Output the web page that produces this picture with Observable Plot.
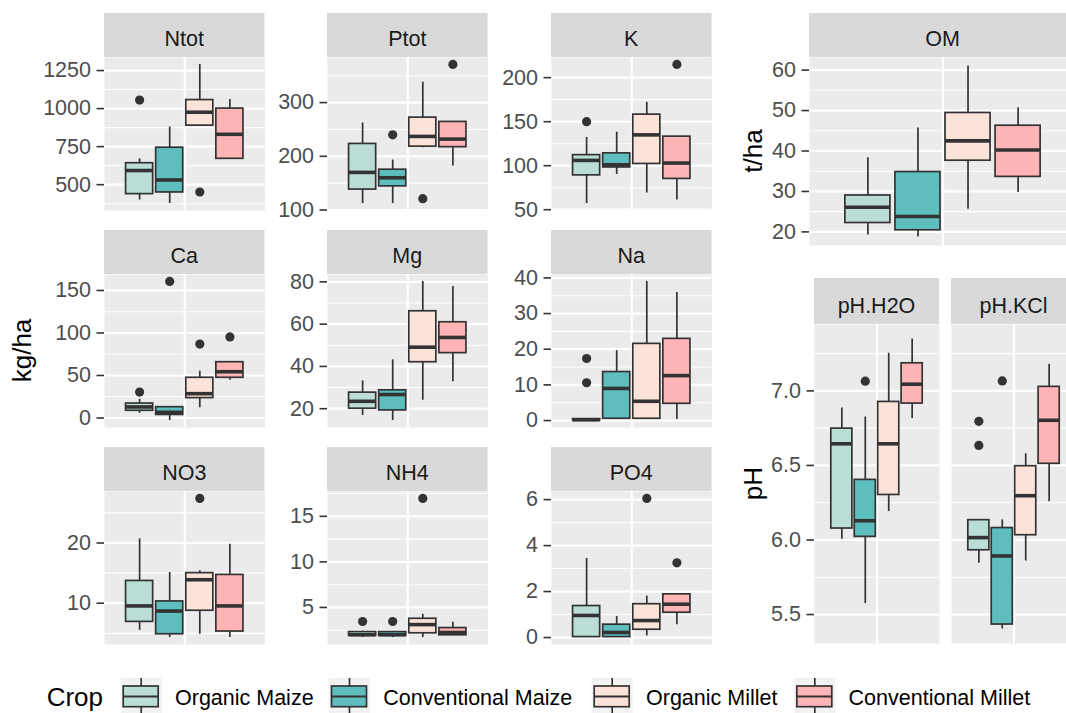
<!DOCTYPE html>
<html>
<head>
<meta charset="utf-8">
<script src="https://cdn.jsdelivr.net/npm/d3@7"></script>
<script src="https://cdn.jsdelivr.net/npm/@observablehq/plot@0.6"></script>
<style>
  html, body { margin: 0; padding: 0; background: #fff; overflow: hidden; }
  #fig { position: relative; width: 1066px; height: 713px; overflow: hidden;
         font-family: "Liberation Sans", Arial, sans-serif; }
  #fig > div.pnl { position: absolute; }
  #fig svg { overflow: visible; max-width: none !important; }
</style>
</head>
<body>
<div id="fig"></div>
<script>
// ---------------- data (box stats per crop: [lower whisker, Q1, median, Q3, upper whisker]) -------------
const crops = ["Organic Maize", "Conventional Maize", "Organic Millet", "Conventional Millet"];
const cropColors = ["#BADED6", "#5EBEBE", "#FBE3D9", "#FFB4B6"];

const ntotStats = [[399, 438, 593, 641, 670], [376, 449, 531, 743, 879], [888, 888, 976, 1056, 1290], [670, 670, 831, 1000, 1060]];
const ntotOutliers = [[1056], [], [452], []];
const ntotTicks = [500, 750, 1000, 1250];

const ptotStats = [[112, 138, 170, 223, 262], [112, 144, 160, 175, 193], [216, 218, 237, 272, 338], [182, 217, 232, 264, 264]];
const ptotOutliers = [[], [240], [121], [371]];
const ptotTicks = [100, 200, 300];

const kStats = [[57, 89, 106, 112, 132], [90, 98, 101, 114, 138], [69, 102, 135, 158, 172], [61, 85, 103, 133, 133]];
const kOutliers = [[150], [], [], [215]];
const kTicks = [50, 100, 150, 200];

const caStats = [[5.5, 8.5, 13, 17, 22], [-3, 3.6, 6.7, 12.7, 13], [12, 23.4, 28.6, 47.3, 55], [44.5, 47.3, 54.4, 65.6, 65.6]];
const caOutliers = [[30.5], [160.6], [87], [95.4]];
const caTicks = [0, 50, 100, 150];

const mgStats = [[16.8, 20, 23.5, 27.6, 33.2], [14.4, 19.2, 26.7, 28.7, 43.1], [24, 42, 49.1, 66.1, 80.2], [32.7, 46.3, 53.7, 60.9, 77.8]];
const mgOutliers = [[], [], [], []];
const mgTicks = [20, 40, 60, 80];

const naStats = [[0, 0, 0.2, 0.4, 0.4], [0.5, 0.5, 9, 13.6, 19.6], [0.5, 0.5, 5.4, 21.5, 39], [0.3, 4.7, 12.6, 22.9, 35.9]];
const naOutliers = [[10.6, 17.4], [], [], []];
const naTicks = [0, 10, 20, 30, 40];

const no3Stats = [[5.5, 6.9, 9.55, 13.7, 20.7], [4.3, 4.85, 8.7, 10.3, 15.1], [4.85, 8.75, 13.9, 15, 15.4], [4.3, 5.3, 9.55, 14.7, 19.8]];
const no3Outliers = [[], [], [27.4], []];
const no3Ticks = [10, 20];

const nh4Stats = [[1.7, 1.9, 2.0, 2.3, 2.4], [1.7, 1.9, 2.0, 2.3, 2.3], [1.7, 2.17, 3.12, 3.76, 4.25], [1.95, 1.95, 2.25, 2.74, 3.38]];
const nh4Outliers = [[3.46], [3.46], [16.96], []];
const nh4Ticks = [5, 10, 15];

const po4Stats = [[0.02, 0.02, 0.96, 1.37, 3.44], [0, 0.02, 0.22, 0.56, 0.92], [0.07, 0.34, 0.74, 1.45, 1.8], [0.56, 1.08, 1.45, 1.88, 1.88]];
const po4Outliers = [[], [], [6.05], [3.25]];
const po4Ticks = [0, 2, 4, 6];

const omStats = [[19.25, 22.2, 26.1, 29, 38.3], [18.75, 20.4, 23.8, 34.8, 45.7], [25.6, 37.6, 42.5, 49.4, 61], [29.75, 33.6, 40.25, 46.25, 50.7]];
const omOutliers = [[], [], [], []];
const omTicks = [20, 30, 40, 50, 60];

const phH2OStats = [[6.005, 6.077, 6.645, 6.747, 6.885], [5.574, 6.021, 6.129, 6.403, 6.825], [6.191, 6.302, 6.645, 6.926, 7.252], [6.814, 6.915, 7.045, 7.185, 7.348]];
const phH2OOutliers = [[], [7.065], [], []];
const phKClStats = [[5.844, 5.931, 6.016, 6.133, 6.133], [5.403, 5.433, 5.893, 6.08, 6.135], [5.859, 6.032, 6.297, 6.495, 6.578], [6.257, 6.511, 6.803, 7.027, 7.178]];
const phKClOutliers = [[6.634, 6.796], [7.067], [], []];
const phTicks = [5.5, 6.0, 6.5, 7.0];

// ---------------- panels & layout ----------------
const intFmt = d => String(d);
const phFmt = d3.format(".1f");

const panels = [
  {name: "Ntot", stats: ntotStats, outs: ntotOutliers, ticks: ntotTicks, fmt: intFmt, group: "Ntot"},
  {name: "Ptot", stats: ptotStats, outs: ptotOutliers, ticks: ptotTicks, fmt: intFmt, group: "Ptot"},
  {name: "K", stats: kStats, outs: kOutliers, ticks: kTicks, fmt: intFmt, group: "K"},
  {name: "Ca", stats: caStats, outs: caOutliers, ticks: caTicks, fmt: intFmt, group: "Ca"},
  {name: "Mg", stats: mgStats, outs: mgOutliers, ticks: mgTicks, fmt: intFmt, group: "Mg"},
  {name: "Na", stats: naStats, outs: naOutliers, ticks: naTicks, fmt: intFmt, group: "Na"},
  {name: "NO3", stats: no3Stats, outs: no3Outliers, ticks: no3Ticks, fmt: intFmt, group: "NO3"},
  {name: "NH4", stats: nh4Stats, outs: nh4Outliers, ticks: nh4Ticks, fmt: intFmt, group: "NH4"},
  {name: "PO4", stats: po4Stats, outs: po4Outliers, ticks: po4Ticks, fmt: intFmt, group: "PO4"},
  {name: "OM", stats: omStats, outs: omOutliers, ticks: omTicks, fmt: intFmt, group: "OM"},
  {name: "pH.H2O", stats: phH2OStats, outs: phH2OOutliers, ticks: phTicks, fmt: phFmt, group: "pH"},
  {name: "pH.KCl", stats: phKClStats, outs: phKClOutliers, ticks: phTicks, fmt: phFmt, group: "pH", noAxis: true}
];

const colX = [104, 327, 551];
const rowY = [13, 230, 447];
const layout = {
  "Ntot": {x: colX[0], y: rowY[0], w: 160.5, sh: 44, h: 153},
  "Ptot": {x: colX[1], y: rowY[0], w: 160.5, sh: 44, h: 153},
  "K":    {x: colX[2], y: rowY[0], w: 160.5, sh: 44, h: 153},
  "Ca":   {x: colX[0], y: rowY[1], w: 160.5, sh: 44, h: 153},
  "Mg":   {x: colX[1], y: rowY[1], w: 160.5, sh: 44, h: 153},
  "Na":   {x: colX[2], y: rowY[1], w: 160.5, sh: 44, h: 153},
  "NO3":  {x: colX[0], y: rowY[2], w: 160.5, sh: 44, h: 153},
  "NH4":  {x: colX[1], y: rowY[2], w: 160.5, sh: 44, h: 153},
  "PO4":  {x: colX[2], y: rowY[2], w: 160.5, sh: 44, h: 153},
  "OM":   {x: 809, y: 13, w: 267, sh: 44, h: 188},
  "pH.H2O": {x: 814, y: 278, w: 125, sh: 46, h: 319},
  "pH.KCl": {x: 951, y: 278, w: 125, sh: 46, h: 319}
};

// shared domains (ggplot-style 5% expansion over the data of a group)
const domains = {};
for (const g of new Set(panels.map(p => p.group))) {
  const vals = panels.filter(p => p.group === g).flatMap(p => [...p.stats.flat(), ...p.outs.flat()]);
  const [a, b] = d3.extent(vals);
  const e = (b - a) * 0.05;
  domains[g] = [a - e, b + e];
}

// dodge positions in a single discrete x slot at 1 (range 0.4..1.6)
const slot = 0.9 / crops.length;
const dodge = i => 1 - 0.45 + slot * (i + 0.5);
const HW = slot * 0.9 / 2;

const fig = document.getElementById("fig");
const FONT = '"Liberation Sans", Arial, sans-serif';

// background svg: strips, axis titles, legend
const bg = d3.select(fig).append("svg")
  .attr("width", 1066).attr("height", 713)
  .style("position", "absolute").style("left", 0).style("top", 0)
  .style("font-family", FONT);

for (const p of panels) {
  const L = layout[p.name];
  bg.append("rect").attr("x", L.x).attr("y", L.y).attr("width", L.w).attr("height", L.sh).attr("fill", "#D9D9D9");
  bg.append("text").attr("x", L.x + L.w / 2).attr("y", L.y + L.sh * 0.76)
    .attr("text-anchor", "middle").attr("font-size", 21.5).attr("fill", "#1A1A1A").text(p.name);
}

const titles = [
  {t: "kg/ha", x: 30.5, y: 350.5},
  {t: "t/ha", x: 762, y: 151},
  {t: "pH", x: 762, y: 483.5}
];
for (const a of titles) {
  bg.append("text").attr("transform", `translate(${a.x},${a.y}) rotate(-90)`)
    .attr("text-anchor", "middle").attr("font-size", 26).attr("fill", "#000").text(a.t);
}

// legend
const lg = bg.append("g").attr("transform", "translate(0,670)");
lg.append("text").attr("x", 46.7).attr("y", 36).attr("font-size", 26).attr("fill", "#000").text("Crop");
const keyX = [120.7, 329, 591.7, 794.3];
crops.forEach((c, i) => {
  const kx = keyX[i];
  lg.append("rect").attr("x", kx).attr("y", 8).attr("width", 41).attr("height", 36).attr("fill", "#F2F2F2");
  lg.append("line").attr("x1", kx + 20.5).attr("x2", kx + 20.5).attr("y1", 8).attr("y2", 44).attr("stroke", "#333").attr("stroke-width", 1.7);
  lg.append("rect").attr("x", kx + 2.5).attr("y", 16).attr("width", 35).attr("height", 20.7)
    .attr("fill", cropColors[i]).attr("stroke", "#333").attr("stroke-width", 1.7);
  lg.append("line").attr("x1", kx + 2.5).attr("x2", kx + 37.5).attr("y1", 26.5).attr("y2", 26.5).attr("stroke", "#333").attr("stroke-width", 2);
  lg.append("text").attr("x", kx + 54.3).attr("y", 35).attr("font-size", 21.5).attr("fill", "#000").text(c);
});

// ---------------- panels with Plot ----------------
for (const p of panels) {
  const L = layout[p.name];
  const domain = domains[p.group];
  const ML = p.noAxis ? 0 : 80;
  const rows = p.stats.map((s, i) => ({crop: crops[i], pos: dodge(i), lo: s[0], q1: s[1], med: s[2], q3: s[3], hi: s[4]}));
  const pts = p.outs.flatMap((o, i) => o.map(v => ({crop: crops[i], pos: dodge(i), v})));
  const step = p.ticks[1] - p.ticks[0];
  const minor = [p.ticks[0] - step / 2, ...p.ticks.map(t => t + step / 2)].filter(v => v > domain[0] && v < domain[1]);

  const chart = Plot.plot({
    width: ML + L.w,
    height: L.h,
    marginLeft: ML, marginRight: 0, marginTop: 0, marginBottom: 0,
    style: {background: "transparent", fontSize: "21.5px", fontFamily: FONT, overflow: "visible", maxWidth: "none"},
    x: {domain: [0.4, 1.6], axis: null},
    y: {domain, axis: null},
    color: {domain: crops, range: cropColors},
    marks: [
      Plot.frame({fill: "#EBEBEB", stroke: "none"}),
      Plot.ruleY(minor, {stroke: "#FFFFFF", strokeWidth: 1.1}),
      Plot.ruleY(p.ticks, {stroke: "#FFFFFF", strokeWidth: 2.2}),
      Plot.ruleX([1], {stroke: "#FFFFFF", strokeWidth: 2.2}),
      Plot.ruleX(rows, {x: "pos", y1: "lo", y2: "hi", stroke: "#333333", strokeWidth: 1.7}),
      Plot.rect(rows, {x1: d => d.pos - HW, x2: d => d.pos + HW, y1: "q1", y2: "q3", fill: "crop", stroke: "#333333", strokeWidth: 1.7}),
      Plot.ruleY(rows, {y: "med", x1: d => d.pos - HW, x2: d => d.pos + HW, stroke: "#333333", strokeWidth: 3.6}),
      Plot.dot(pts, {x: "pos", y: "v", r: 4.6, fill: "#333333", stroke: "none"}),
      p.noAxis ? null : Plot.axisY({ticks: p.ticks, tickFormat: p.fmt, tickSize: 7.5, tickPadding: 6,
        stroke: "#333333", strokeWidth: 1.6, fill: "#4D4D4D", fontSize: 21.5, label: null})
    ]
  });
  const wrap = document.createElement("div");
  wrap.className = "pnl";
  wrap.style.left = (L.x - ML) + "px";
  wrap.style.top = (L.y + L.sh) + "px";
  wrap.style.width = (ML + L.w) + "px";
  wrap.style.height = L.h + "px";
  chart.style.width = (ML + L.w) + "px";
  chart.style.height = L.h + "px";
  wrap.appendChild(chart);
  fig.appendChild(wrap);
}
</script>
</body>
</html>
